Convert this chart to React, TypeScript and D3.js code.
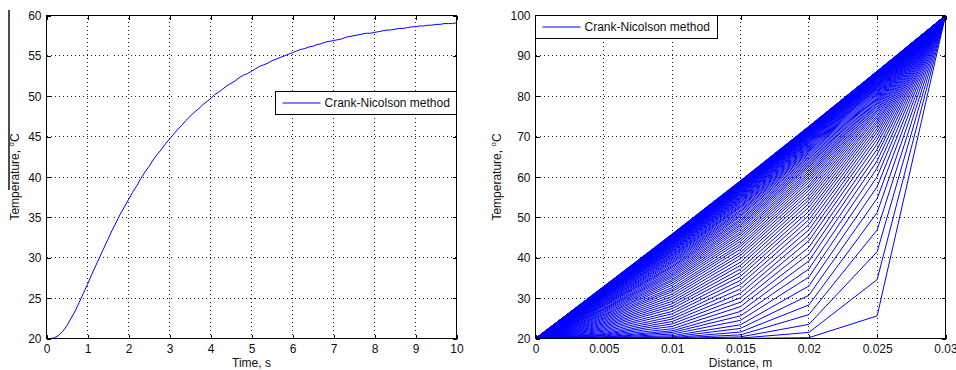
import React, { useEffect, useRef } from "react";
import * as d3 from "d3";

// Crank-Nicolson run: 7 nodes, dt = 0.1 s, T(0) = 20, T(L) = 100
const TIME_STEP = 0.1;
const T_INITIAL = 20;
const T_LEFT = 20;
const T_RIGHT = 100;
const MID_NODE = 2; // x = 0.015 inside the interior rows

const nodePositions = [0, 0.005, 0.01, 0.015, 0.02, 0.025, 0.03];

// interior node temperatures (x = 0.005 ... 0.025), one row per time step
const profiles: number[][] = [
  [20.0, 20.0, 20.0, 20.2, 25.6],
  [20.0, 20.0, 20.1, 21.5, 34.6],
  [20.0, 20.0, 20.4, 23.5, 41.5],
  [20.0, 20.1, 20.9, 25.9, 46.9],
  [20.0, 20.2, 21.6, 28.3, 51.2],
  [20.1, 20.4, 22.5, 30.7, 54.7],
  [20.1, 20.7, 23.4, 33.0, 57.6],
  [20.2, 21.1, 24.5, 35.2, 60.1],
  [20.3, 21.5, 25.6, 37.2, 62.2],
  [20.4, 21.9, 26.7, 39.2, 64.0],
  [20.6, 22.4, 27.9, 40.9, 65.6],
  [20.8, 23.0, 29.0, 42.6, 66.9],
  [21.0, 23.6, 30.1, 44.2, 68.2],
  [21.2, 24.2, 31.2, 45.6, 69.3],
  [21.5, 24.8, 32.3, 46.9, 70.3],
  [21.8, 25.4, 33.4, 48.2, 71.2],
  [22.1, 26.1, 34.4, 49.4, 72.0],
  [22.4, 26.7, 35.4, 50.5, 72.8],
  [22.7, 27.4, 36.3, 51.5, 73.5],
  [23.0, 28.0, 37.2, 52.5, 74.1],
  [23.3, 28.6, 38.1, 53.4, 74.8],
  [23.6, 29.2, 38.9, 54.3, 75.3],
  [23.9, 29.8, 39.8, 55.1, 75.9],
  [24.2, 30.4, 40.6, 55.9, 76.4],
  [24.5, 31.0, 41.3, 56.7, 76.8],
  [24.8, 31.6, 42.1, 57.4, 77.3],
  [25.1, 32.1, 42.8, 58.0, 77.7],
  [25.4, 32.6, 43.4, 58.7, 78.1],
  [25.7, 33.2, 44.1, 59.3, 78.4],
  [25.9, 33.7, 44.7, 59.9, 78.8],
  [26.2, 34.2, 45.3, 60.4, 79.1],
  [26.5, 34.6, 45.9, 60.9, 79.4],
  [26.7, 35.1, 46.4, 61.4, 79.7],
  [27.0, 35.5, 47.0, 61.9, 80.0],
  [27.2, 35.9, 47.5, 62.4, 80.3],
  [27.4, 36.3, 48.0, 62.8, 80.6],
  [27.6, 36.7, 48.4, 63.2, 80.8],
  [27.9, 37.1, 48.9, 63.6, 81.0],
  [28.1, 37.5, 49.3, 64.0, 81.3],
  [28.3, 37.8, 49.7, 64.4, 81.5],
  [28.4, 38.1, 50.2, 64.8, 81.7],
  [28.6, 38.5, 50.5, 65.1, 81.9],
  [28.8, 38.8, 50.9, 65.5, 82.1],
  [29.0, 39.1, 51.3, 65.8, 82.3],
  [29.1, 39.4, 51.6, 66.1, 82.5],
  [29.3, 39.7, 51.9, 66.4, 82.6],
  [29.5, 40.0, 52.3, 66.6, 82.8],
  [29.6, 40.2, 52.6, 66.9, 82.9],
  [29.8, 40.5, 52.8, 67.1, 83.1],
  [29.9, 40.7, 53.1, 67.4, 83.2],
  [30.0, 40.9, 53.4, 67.6, 83.4],
  [30.2, 41.2, 53.7, 67.8, 83.5],
  [30.3, 41.4, 53.9, 68.1, 83.6],
  [30.4, 41.6, 54.1, 68.3, 83.7],
  [30.5, 41.8, 54.4, 68.5, 83.9],
  [30.6, 42.0, 54.6, 68.7, 84.0],
  [30.7, 42.2, 54.8, 68.8, 84.1],
  [30.8, 42.3, 55.0, 69.0, 84.2],
  [30.9, 42.5, 55.2, 69.2, 84.3],
  [31.0, 42.7, 55.4, 69.3, 84.4],
  [31.1, 42.8, 55.6, 69.5, 84.5],
  [31.2, 43.0, 55.8, 69.7, 84.5],
  [31.3, 43.1, 55.9, 69.8, 84.6],
  [31.4, 43.3, 56.1, 69.9, 84.7],
  [31.4, 43.4, 56.2, 70.1, 84.8],
  [31.5, 43.5, 56.4, 70.2, 84.9],
  [31.6, 43.7, 56.5, 70.3, 84.9],
  [31.7, 43.8, 56.7, 70.4, 85.0],
  [31.7, 43.9, 56.8, 70.5, 85.1],
  [31.8, 44.0, 56.9, 70.7, 85.1],
  [31.9, 44.1, 57.0, 70.8, 85.2],
  [31.9, 44.2, 57.1, 70.9, 85.2],
  [32.0, 44.3, 57.3, 71.0, 85.3],
  [32.0, 44.4, 57.4, 71.1, 85.4],
  [32.1, 44.5, 57.5, 71.1, 85.4],
  [32.1, 44.6, 57.6, 71.2, 85.5],
  [32.2, 44.6, 57.7, 71.3, 85.5],
  [32.2, 44.7, 57.8, 71.4, 85.5],
  [32.3, 44.8, 57.8, 71.5, 85.6],
  [32.3, 44.9, 57.9, 71.5, 85.6],
  [32.3, 44.9, 58.0, 71.6, 85.7],
  [32.4, 45.0, 58.1, 71.7, 85.7],
  [32.4, 45.1, 58.2, 71.7, 85.7],
  [32.5, 45.1, 58.2, 71.8, 85.8],
  [32.5, 45.2, 58.3, 71.9, 85.8],
  [32.5, 45.3, 58.4, 71.9, 85.9],
  [32.6, 45.3, 58.4, 72.0, 85.9],
  [32.6, 45.4, 58.5, 72.0, 85.9],
  [32.6, 45.4, 58.6, 72.1, 85.9],
  [32.6, 45.5, 58.6, 72.1, 86.0],
  [32.7, 45.5, 58.7, 72.2, 86.0],
  [32.7, 45.6, 58.7, 72.2, 86.0],
  [32.7, 45.6, 58.8, 72.3, 86.1],
  [32.7, 45.6, 58.8, 72.3, 86.1],
  [32.8, 45.7, 58.9, 72.4, 86.1],
  [32.8, 45.7, 58.9, 72.4, 86.1],
  [32.8, 45.8, 59.0, 72.4, 86.1],
  [32.8, 45.8, 59.0, 72.5, 86.2],
  [32.9, 45.8, 59.0, 72.5, 86.2],
  [32.9, 45.9, 59.1, 72.5, 86.2],
];

const timeTicks = [0, 1, 2, 3, 4, 5, 6, 7, 8, 9, 10];
const timeTickLabels = ["0", "1", "2", "3", "4", "5", "6", "7", "8", "9", "10"];
const tempTicksLeft = [20, 25, 30, 35, 40, 45, 50, 55, 60];
const tempTickLabelsLeft = ["20", "25", "30", "35", "40", "45", "50", "55", "60"];
const distTicks = [0, 0.005, 0.01, 0.015, 0.02, 0.025, 0.03];
const distTickLabels = ["0", "0.005", "0.01", "0.015", "0.02", "0.025", "0.03"];
const tempTicksRight = [20, 30, 40, 50, 60, 70, 80, 90, 100];
const tempTickLabelsRight = ["20", "30", "40", "50", "60", "70", "80", "90", "100"];

const LEGEND_LABEL = "Crank-Nicolson method";
const FONT = "'Liberation Sans', Arial, Helvetica, sans-serif";
const LINE_BLUE = "#0000ff";

const WIDTH = 956;
const HEIGHT = 370;
const PANEL_TOP = 15.5;
const PANEL_BOTTOM = 338.5;

interface PanelConfig {
  x: d3.ScaleLinear<number, number>;
  y: d3.ScaleLinear<number, number>;
  xTicks: number[];
  xLabels: string[];
  yTicks: number[];
  yLabels: string[];
  xTitle: string;
  titleX: number; // baseline of the rotated y title
  series: [number, number][][];
  legend: { x: number; y: number; w: number; h: number };
}

function drawPanel(node: SVGGElement | null, cfg: PanelConfig) {
  if (!node) return;
  const g = d3.select(node);
  g.selectAll("*").remove();
  const { x, y } = cfg;
  const [left, right] = x.range();
  const [bottom, top] = y.range();
  const snap = (v: number) => Math.floor(v) + 0.5;

  // dotted grid
  const grid = g
    .append("g")
    .attr("stroke", "#222")
    .attr("stroke-width", 1)
    .attr("stroke-dasharray", "1,3")
    .attr("shape-rendering", "crispEdges");
  grid
    .selectAll("line.v")
    .data(cfg.xTicks.slice(1, -1))
    .join("line")
    .attr("x1", (d) => snap(x(d)))
    .attr("x2", (d) => snap(x(d)))
    .attr("y1", bottom)
    .attr("y2", top);
  grid
    .selectAll("line.h")
    .data(cfg.yTicks.slice(1, -1))
    .join("line")
    .attr("class", "h")
    .attr("x1", left)
    .attr("x2", right)
    .attr("y1", (d) => snap(y(d)))
    .attr("y2", (d) => snap(y(d)));

  // data lines
  const line = d3
    .line<[number, number]>()
    .x((d) => x(d[0]))
    .y((d) => y(d[1]));
  g.append("g")
    .selectAll("path")
    .data(cfg.series)
    .join("path")
    .attr("d", (d) => line(d))
    .attr("fill", "none")
    .attr("stroke", LINE_BLUE)
    .attr("stroke-width", 1);

  // axes, ticks pointing inwards on all four sides
  const xSnap = d3.scaleLinear().domain(x.domain()).range(x.range());
  const bottomAxis = d3
    .axisBottom(xSnap)
    .tickValues(cfg.xTicks)
    .tickFormat((_, i) => cfg.xLabels[i])
    .tickSizeInner(-4)
    .tickSizeOuter(0)
    .tickPadding(6);
  const leftAxis = d3
    .axisLeft(y)
    .tickValues(cfg.yTicks)
    .tickFormat((_, i) => cfg.yLabels[i])
    .tickSizeInner(-4)
    .tickSizeOuter(0)
    .tickPadding(5);
  const topAxis = d3.axisTop(x).tickValues(cfg.xTicks).tickFormat(() => "").tickSizeInner(-4).tickSizeOuter(0);
  const rightAxis = d3.axisRight(y).tickValues(cfg.yTicks).tickFormat(() => "").tickSizeInner(-4).tickSizeOuter(0);

  const styleAxis = (a: d3.Selection<SVGGElement, unknown, null, undefined>) => {
    a.select(".domain").remove();
    a.attr("font-family", FONT).attr("font-size", 12);
    a.selectAll(".tick line").attr("shape-rendering", "crispEdges");
    a.selectAll(".tick text").attr("fill", "#111");
  };

  g.append("g")
    .attr("transform", `translate(0,${bottom})`)
    // eslint-disable-next-line @typescript-eslint/no-explicit-any
    .call(bottomAxis as any)
    .call(styleAxis);
  g.append("g")
    .attr("transform", `translate(${left},0)`)
    // eslint-disable-next-line @typescript-eslint/no-explicit-any
    .call(leftAxis as any)
    .call(styleAxis)
    .call((a) => a.selectAll(".tick text").attr("dy", "0.34em"));
  g.append("g")
    .attr("transform", `translate(0,${top})`)
    // eslint-disable-next-line @typescript-eslint/no-explicit-any
    .call(topAxis as any)
    .call(styleAxis);
  g.append("g")
    .attr("transform", `translate(${right},0)`)
    // eslint-disable-next-line @typescript-eslint/no-explicit-any
    .call(rightAxis as any)
    .call(styleAxis);

  // box
  g.append("rect")
    .attr("x", left)
    .attr("y", top)
    .attr("width", right - left)
    .attr("height", bottom - top)
    .attr("fill", "none")
    .attr("stroke", "#000")
    .attr("shape-rendering", "crispEdges");

  // axis titles
  g.append("text")
    .attr("x", (left + right) / 2)
    .attr("y", 367)
    .attr("text-anchor", "middle")
    .attr("font-family", FONT)
    .attr("font-size", 12)
    .attr("fill", "#111")
    .text(cfg.xTitle);

  const yTitle = g
    .append("text")
    .attr("transform", `translate(${cfg.titleX},${(top + bottom) / 2}) rotate(-90)`)
    .attr("text-anchor", "middle")
    .attr("font-family", FONT)
    .attr("font-size", 12)
    .attr("fill", "#111");
  yTitle.append("tspan").text("Temperature, ");
  yTitle.append("tspan").attr("font-size", 8).attr("dy", -5).text("o");
  yTitle.append("tspan").attr("dy", 5).text("C");

  // legend
  const lg = g.append("g");
  const { x: lx, y: ly, w, h } = cfg.legend;
  lg.append("rect")
    .attr("x", lx)
    .attr("y", ly)
    .attr("width", w)
    .attr("height", h)
    .attr("fill", "#fff")
    .attr("stroke", "#000")
    .attr("shape-rendering", "crispEdges");
  lg.append("line")
    .attr("x1", lx + 7)
    .attr("x2", lx + 45)
    .attr("y1", ly + h / 2)
    .attr("y2", ly + h / 2)
    .attr("stroke", LINE_BLUE);
  lg.append("text")
    .attr("x", lx + 49)
    .attr("y", ly + h / 2)
    .attr("dy", "0.35em")
    .attr("font-family", FONT)
    .attr("font-size", 12)
    .attr("fill", "#111")
    .text(LEGEND_LABEL);
}

export default function App() {
  const gLeft = useRef<SVGGElement>(null);
  const gRight = useRef<SVGGElement>(null);

  useEffect(() => {
    // temperature history at the middle node (x = 0.015 m)
    const midTemps = [T_INITIAL, ...profiles.map((r) => r[MID_NODE])];
    const history: [number, number][] = midTemps.map((v, i) => [i * TIME_STEP, v]);

    drawPanel(gLeft.current, {
      x: d3.scaleLinear().domain([0, 10]).range([46.5, 456.5]),
      y: d3.scaleLinear().domain([20, 60]).range([PANEL_BOTTOM, PANEL_TOP]),
      xTicks: timeTicks,
      xLabels: timeTickLabels,
      yTicks: tempTicksLeft,
      yLabels: tempTickLabelsLeft,
      xTitle: "Time, s",
      titleX: 19,
      series: [history],
      legend: { x: 275.5, y: 91.5, w: 181, h: 23 },
    });

    const rows: [number, number][][] = profiles.map((r) =>
      [T_LEFT, ...r, T_RIGHT].map((v, i) => [nodePositions[i], v] as [number, number])
    );

    drawPanel(gRight.current, {
      x: d3.scaleLinear().domain([0, 0.03]).range([535.5, 945.5]),
      y: d3.scaleLinear().domain([20, 100]).range([PANEL_BOTTOM, PANEL_TOP]),
      xTicks: distTicks,
      xLabels: distTickLabels,
      yTicks: tempTicksRight,
      yLabels: tempTickLabelsRight,
      xTitle: "Distance, m",
      titleX: 501,
      series: rows,
      legend: { x: 535.5, y: 15.5, w: 182, h: 23 },
    });
  }, []);

  return (
    <svg
      width={WIDTH}
      height={HEIGHT}
      style={{ position: "absolute", left: 0, top: 0, background: "#fff" }}
    >
      <line x1={9} x2={9} y1={10} y2={190} stroke="#000" strokeWidth={1.4} />
      <g ref={gLeft}></g>
      <g ref={gRight}></g>
    </svg>
  );
}
